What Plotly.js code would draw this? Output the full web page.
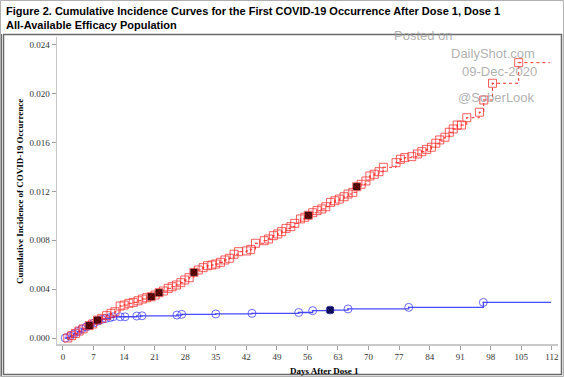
<!DOCTYPE html>
<html>
<head>
<meta charset="utf-8">
<script src="https://cdn.plot.ly/plotly-3.0.1.min.js"></script>
<style>
html,body{margin:0;padding:0;background:#fff;}
#chart{width:564px;height:377px;}
</style>
</head>
<body>
<div id="chart"></div>
<script>
// ---- Data ----
// Placebo arm (red squares): event days and cumulative incidence
const redDays = [1.1, 2.0, 2.9, 3.7, 4.6, 6.0, 6.8, 7.9, 8.9, 10.0, 11.0, 11.9, 13.1, 14.0, 15.1, 16.1, 17.2, 18.2, 19.2, 20.2,
  21.1, 22.0, 23.0, 24.1, 25.0, 26.0, 27.0, 27.9, 28.9, 30.0, 31.0, 32.1, 33.1, 34.1, 35.0, 36.1, 37.1, 38.1, 39.2, 40.2,
  42.1, 43.0, 44.1, 46.1, 47.1, 48.2, 49.2, 50.1, 51.1, 52.2, 53.1, 54.4, 55.4, 56.2, 57.2, 58.2, 59.3, 60.2, 61.3, 62.3,
  63.3, 64.4, 65.3, 66.4, 67.3, 68.3, 69.4, 70.3, 71.3, 72.4, 73.4, 76.3, 77.3, 78.3, 79.9, 81.2, 82.2, 83.3, 84.4, 85.4,
  86.3, 87.5, 88.5, 89.4, 90.3, 91.3, 92.5, 95.4, 96.4, 98.4, 104.4];
const redInc = [0.0000, 0.00019, 0.00038, 0.00057, 0.00074, 0.00101, 0.00115, 0.00147, 0.00161, 0.00183, 0.00202, 0.00215, 0.00262, 0.00270, 0.00284, 0.00292, 0.00305, 0.00319, 0.00330, 0.00338,
  0.00352, 0.00371, 0.00385, 0.00407, 0.00420, 0.00434, 0.00453, 0.00475, 0.00494, 0.00538, 0.00557, 0.00576, 0.00592, 0.00598, 0.00606, 0.00620, 0.00639, 0.00653, 0.00686, 0.00707,
  0.00713, 0.00726, 0.00776, 0.00797, 0.00811, 0.00838, 0.00852, 0.00871, 0.00898, 0.00912, 0.00939, 0.00975, 0.00989, 0.01005, 0.01026, 0.01043, 0.01057, 0.01075, 0.01111, 0.01124,
  0.01138, 0.01157, 0.01179, 0.01193, 0.01239, 0.01259, 0.01286, 0.01327, 0.01341, 0.01362, 0.01398, 0.01436, 0.01464, 0.01477, 0.01485, 0.01507, 0.01526, 0.01545, 0.01562, 0.01595,
  0.01622, 0.01644, 0.01685, 0.01712, 0.01744, 0.01744, 0.01804, 0.01849, 0.01949, 0.02086, 0.02255];
const redLastDay = 111.5;
const redHighlightDays = [6.0, 7.9, 20.2, 22.0, 30.0, 56.2, 67.3];

// Vaccine arm (blue circles)
const blueDays = [0.5, 1.6, 2.5, 3.4, 4.3, 5.3, 6.2, 7.1, 8.0, 8.9, 9.8, 10.8, 11.5, 13.1, 14.2, 16.9, 18.1, 26.1, 27.2, 35.0,
  43.3, 54.0, 57.2, 61.2, 65.3, 79.2, 96.3];
const blueInc = [0.0000, 0.00016, 0.00033, 0.00053, 0.00074, 0.00090, 0.00106, 0.00123, 0.00139, 0.00152, 0.00160, 0.00168, 0.00174, 0.00174, 0.00174, 0.00180, 0.00182, 0.00188, 0.00194, 0.00197,
  0.00202, 0.00209, 0.00224, 0.00229, 0.00238, 0.00251, 0.00292];
const blueLastDay = 111.8;
const blueHighlightDays = [61.2];

const xTicks = [0, 7, 14, 21, 28, 35, 42, 49, 56, 63, 70, 77, 84, 91, 98, 105, 112];
const yTicks = [0.000, 0.004, 0.008, 0.012, 0.016, 0.020, 0.024];

const titleLines = ["Figure 2. Cumulative Incidence Curves for the First COVID-19 Occurrence After Dose 1, Dose 1",
  "All-Available Efficacy Population"];
const xTitle = "Days After Dose 1";
const yTitle = "Cumulative Incidence of COVID-19 Occurrence";
const watermark = ["Posted on", "DailyShot.com", "09-Dec-2020", "@SoberLook"];

// ---- Geometry helpers ----
const W = 564, H = 377;
const M = {l: 57, r: 6, t: 37, b: 33};
const pw = W - M.l - M.r, ph = H - M.t - M.b;
const px = x => (x - M.l) / pw;
const py = y => (H - M.b - y) / ph;

function pick(days, vals, sel) {
  const xs = [], ys = [];
  days.forEach((d, i) => { if (sel.indexOf(d) >= 0) { xs.push(d); ys.push(vals[i]); } });
  return {xs, ys};
}
const redHi = pick(redDays, redInc, redHighlightDays);
const blueHi = pick(blueDays, blueInc, blueHighlightDays);

const traces = [
  {x: blueDays.concat([blueLastDay]), y: blueInc.concat([blueInc[blueInc.length - 1]]),
   mode: 'lines', line: {shape: 'hv', color: '#4a4aff', width: 1.3}, hoverinfo: 'skip'},
  {x: blueDays, y: blueInc, mode: 'markers',
   marker: {symbol: 'circle-open-dot', size: 8, color: 'rgba(60,60,255,0.75)', line: {width: 1}}},
  {x: blueHi.xs, y: blueHi.ys, mode: 'markers',
   marker: {symbol: 'square-x', size: 6, color: '#1a1a70', line: {color: '#000040', width: 1}}},
  {x: redDays.concat([redLastDay]), y: redInc.concat([redInc[redInc.length - 1]]),
   mode: 'lines', line: {shape: 'hv', color: '#ff3030', width: 1, dash: 'dot'}},
  {x: redDays, y: redInc, mode: 'markers',
   marker: {symbol: 'square-open-dot', size: 8, color: 'rgba(255,40,40,0.75)', line: {width: 1}}},
  {x: redHi.xs, y: redHi.ys, mode: 'markers',
   marker: {symbol: 'square-x', size: 6, color: '#7a0000', line: {color: '#300000', width: 1}}}
];

const annotations = [];
titleLines.forEach((t, i) => annotations.push({
  text: '<b>' + t + '</b>', xref: 'paper', yref: 'paper', x: px(4), y: py(3 + i * 14),
  xanchor: 'left', yanchor: 'top', showarrow: false,
  font: {family: 'Liberation Sans, Arial', size: 11, color: '#000'}
}));
annotations.push({text: '<b>' + xTitle + '</b>', xref: 'paper', yref: 'paper', x: px(324), y: py(371),
  xanchor: 'center', yanchor: 'middle', showarrow: false,
  font: {family: 'Liberation Serif, Times New Roman', size: 9, color: '#000'}});
annotations.push({text: '<b>' + yTitle + '</b>', xref: 'paper', yref: 'paper', x: px(20), y: py(192),
  xanchor: 'center', yanchor: 'middle', showarrow: false, textangle: -90,
  font: {family: 'Liberation Serif, Times New Roman', size: 9, color: '#000'}});
const wmPos = [[423, 35], [493, 53], [499, 71], [496, 97]];
watermark.forEach((t, i) => annotations.push({
  text: t, xref: 'paper', yref: 'paper', x: px(wmPos[i][0]), y: py(wmPos[i][1]),
  xanchor: 'center', yanchor: 'middle', showarrow: false,
  font: {family: 'Liberation Sans, Arial', size: 13, color: 'rgba(150,150,150,0.75)'}
}));

const shapes = [
  {type: 'rect', xref: 'paper', yref: 'paper', x0: px(0.5), x1: px(563.5), y0: py(0.5), y1: py(376.5),
   line: {color: '#b0b0b0', width: 1}, layer: 'below'},
  {type: 'rect', xref: 'paper', yref: 'paper', x0: px(3.5), x1: px(561.5), y0: py(34.5), y1: py(374.5),
   line: {color: '#6a6a6a', width: 1.5}, layer: 'below'},
  {type: 'line', xref: 'paper', yref: 'paper', x0: px(1.5), x1: px(1.5), y0: py(34), y1: py(376),
   line: {color: '#6a6a6a', width: 1}, layer: 'below'}
];

const layout = {
  width: W, height: H, margin: M, showlegend: false,
  paper_bgcolor: '#fff', plot_bgcolor: '#fff',
  xaxis: {range: [-1.37, 113.4], tickvals: xTicks, ticktext: xTicks.map(String), showgrid: false, zeroline: false,
    showline: true, linecolor: '#c8c8c8', linewidth: 1.5, ticks: 'outside', ticklen: 4, tickcolor: '#a0a0a0',
    tickfont: {family: 'Liberation Serif, Times New Roman', size: 9, color: '#333'}},
  yaxis: {range: [-0.00049, 0.02465], tickvals: yTicks, ticktext: yTicks.map(v => v.toFixed(3)), showgrid: false, zeroline: false,
    showline: true, linecolor: '#c8c8c8', linewidth: 1.5, ticks: 'outside', ticklen: 4, tickcolor: '#a0a0a0',
    tickfont: {family: 'Liberation Serif, Times New Roman', size: 9, color: '#333'}},
  annotations, shapes
};

Plotly.newPlot('chart', traces, layout, {staticPlot: true, displayModeBar: false});
</script>
</body>
</html>
